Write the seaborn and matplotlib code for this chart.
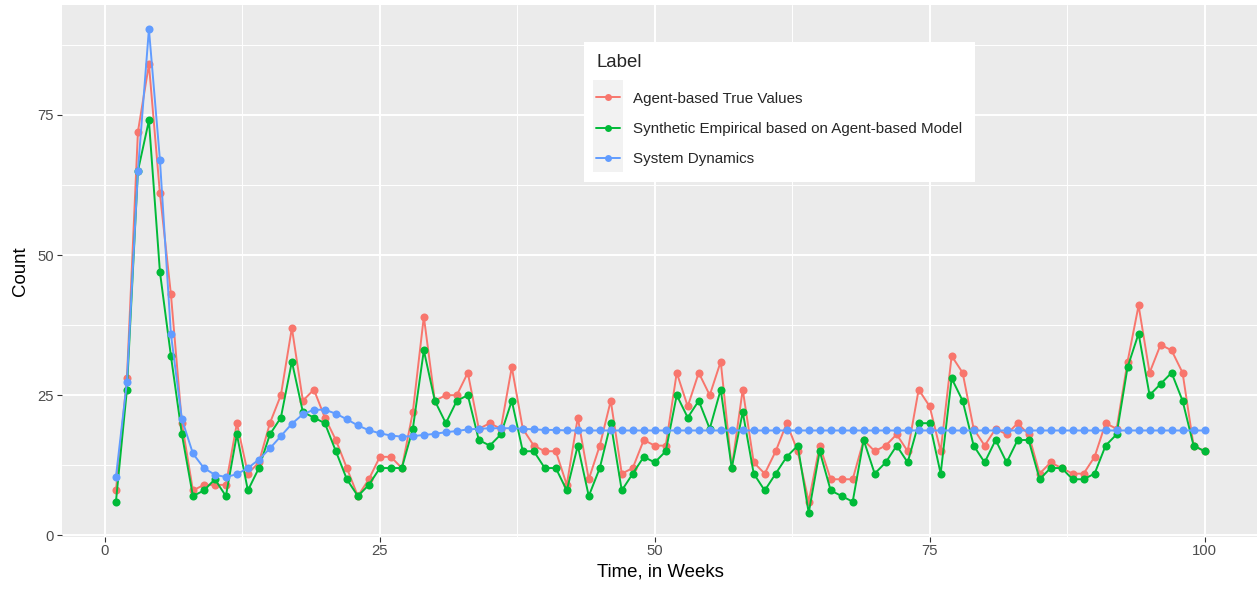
import numpy as np
import pandas as pd
import seaborn as sns
import matplotlib.pyplot as plt
from matplotlib.patches import Rectangle

# ---- data ----
weeks = list(range(1, 101))

agent_true = [8, 28, 72, 84, 61, 43, 20, 8, 9, 9,
              9, 20, 11, 13, 20, 25, 37, 24, 26, 21,
              17, 12, 7, 10, 14, 14, 12, 22, 39, 24,
              25, 25, 29, 19, 20, 19, 30, 19, 16, 15,
              15, 9, 21, 10, 16, 24, 11, 12, 17, 16,
              16, 29, 23, 29, 25, 31, 12, 26, 13, 11,
              15, 20, 15, 6, 16, 10, 10, 10, 17, 15,
              16, 18, 15, 26, 23, 15, 32, 29, 19, 16,
              19, 18, 20, 18, 11, 13, 12, 11, 11, 14,
              20, 19, 31, 41, 29, 34, 33, 29, 16, 15]

synthetic = [6, 26, 65, 74, 47, 32, 18, 7, 8, 10,
             7, 18, 8, 12, 18, 21, 31, 22, 21, 20,
             15, 10, 7, 9, 12, 12, 12, 19, 33, 24,
             20, 24, 25, 17, 16, 18, 24, 15, 15, 12,
             12, 8, 16, 7, 12, 20, 8, 11, 14, 13,
             15, 25, 21, 24, 19, 26, 12, 22, 11, 8,
             11, 14, 16, 4, 15, 8, 7, 6, 17, 11,
             13, 16, 13, 20, 20, 11, 28, 24, 16, 13,
             17, 13, 17, 17, 10, 12, 12, 10, 10, 11,
             16, 18, 30, 36, 25, 27, 29, 24, 16, 15]

system_dynamics = [10.4, 27.4, 65.0, 90.3, 67.0, 35.9, 20.7, 14.6, 12.0, 10.8,
                   10.4, 10.9, 12.0, 13.5, 15.5, 17.7, 19.9, 21.6, 22.4, 22.4,
                   21.7, 20.7, 19.6, 18.75, 18.2, 17.8, 17.6, 17.7, 17.9, 18.1,
                   18.4, 18.6, 18.9, 19.0, 19.1, 19.1, 19.1, 19.0, 18.9, 18.8,
                   18.8, 18.7, 18.7, 18.7, 18.7, 18.7, 18.7, 18.7, 18.7, 18.7,
                   18.7, 18.7, 18.7, 18.7, 18.7, 18.7, 18.7, 18.7, 18.7, 18.7,
                   18.7, 18.7, 18.7, 18.7, 18.7, 18.7, 18.7, 18.7, 18.7, 18.7,
                   18.7, 18.7, 18.7, 18.7, 18.7, 18.7, 18.7, 18.7, 18.7, 18.7,
                   18.7, 18.7, 18.7, 18.7, 18.7, 18.7, 18.7, 18.7, 18.7, 18.7,
                   18.7, 18.7, 18.7, 18.7, 18.7, 18.7, 18.7, 18.7, 18.7, 18.7]

labels = ["Agent-based True Values",
          "Synthetic Empirical based on Agent-based Model",
          "System Dynamics"]
colors = ["#F8766D", "#00BA38", "#619CFF"]

x_ticks = [0, 25, 50, 75, 100]
y_ticks = [0, 25, 50, 75]

df = pd.concat([
    pd.DataFrame({"Week": weeks, "Count": agent_true, "Label": labels[0]}),
    pd.DataFrame({"Week": weeks, "Count": synthetic, "Label": labels[1]}),
    pd.DataFrame({"Week": weeks, "Count": system_dynamics, "Label": labels[2]}),
], ignore_index=True)

# ---- style ----
sns.set_theme(style="darkgrid", rc={
    "axes.facecolor": "#EBEBEB",
    "grid.color": "white",
    "grid.linewidth": 1.4,
    "axes.edgecolor": "none",
})
plt.rcParams["font.family"] = ["Liberation Sans", "DejaVu Sans"]

W, H = 1257, 591
fig = plt.figure(figsize=(W / 100, H / 100), dpi=100)
fig.patch.set_facecolor("white")

def px(x0, y0, x1, y1):
    """pixel box (top-left origin) -> figure fraction rect"""
    return [x0 / W, 1 - y1 / H, (x1 - x0) / W, (y1 - y0) / H]

ax = fig.add_axes(px(61.5, 5, 1259, 537))

sns.lineplot(data=df, x="Week", y="Count", hue="Label", hue_order=labels,
             palette=colors, marker="o", markersize=5.8, markeredgewidth=0,
             linewidth=1.4, ax=ax, legend=True)

ax.set_xlim(-3.95, 104.95)
ax.set_ylim(-0.3, 94.6)
ax.set_xticks(x_ticks)
ax.set_yticks(y_ticks)
ax.set_xticks([12.5, 37.5, 62.5, 87.5], minor=True)
ax.set_yticks([12.5, 37.5, 62.5, 87.5], minor=True)
ax.grid(which="major", color="white", linewidth=1.4)
ax.grid(which="minor", color="white", linewidth=0.7)
ax.set_axisbelow(True)
for s in ax.spines.values():
    s.set_visible(False)

ax.tick_params(which="major", length=3.3, width=0.8, color="#333333",
               labelsize=10.7, labelcolor="#4D4D4D", pad=2,
               bottom=True, left=True)
ax.tick_params(which="minor", length=0)

ax.set_xlabel("Time, in Weeks", fontsize=13.4, color="black", labelpad=4)
ax.set_ylabel("Count", fontsize=13.4, color="black", labelpad=6)

# ---- legend ----
handles, leg_labels = ax.get_legend_handles_labels()
ax.get_legend().remove()

fig.patches.append(Rectangle(px(584, 42, 975, 182)[:2], 391 / W, 140 / H,
                             transform=fig.transFigure, facecolor="white",
                             edgecolor="none", zorder=2))
fig.patches.append(Rectangle(px(593, 80, 623, 172)[:2], 30 / W, 92 / H,
                             transform=fig.transFigure, facecolor="#F2F2F2",
                             edgecolor="none", zorder=3))

leg_fs = 10.9
leg = fig.legend(handles, leg_labels, title="Label", loc="upper left",
                 bbox_to_anchor=(584 / W, 1 - 42 / H), bbox_transform=fig.transFigure,
                 frameon=False, fontsize=leg_fs, title_fontsize=13.4,
                 handlelength=1.6, handletextpad=0.85, labelspacing=1.08,
                 borderpad=0.8, borderaxespad=0, alignment="left")
# extra gap between the title and the first entry
leg._legend_box.sep = 1.08 * leg_fs + 3.0
leg.set_zorder(5)
for h in leg.legend_handles:
    h.set_markersize(5)

fig.savefig("out.png", dpi=100)
